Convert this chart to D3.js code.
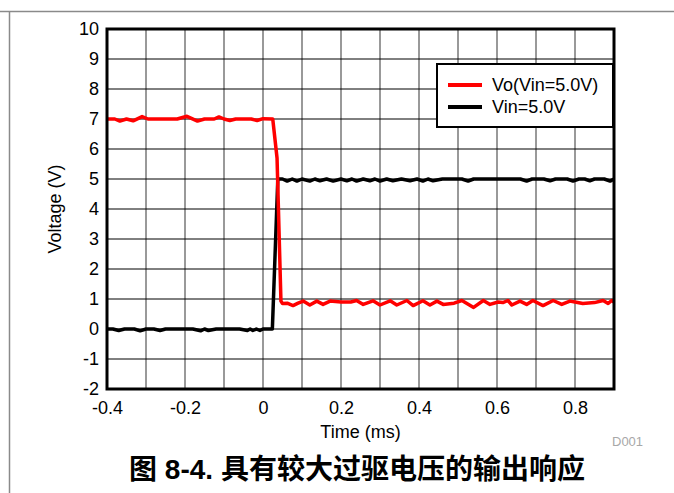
<!DOCTYPE html>
<html>
<head>
<meta charset="utf-8">
<script src="https://cdn.jsdelivr.net/npm/d3@7"></script>
<style>
  body { margin: 0; background: #fff; }
  text { font-family: "Liberation Sans", Arial, sans-serif; }
</style>
</head>
<body>
<div id="chart"></div>
<script>
// x ticks (ms) and y ticks (V)
var xTicks = [-0.4, -0.2, 0, 0.2, 0.4, 0.6, 0.8];
var xGrid = [-0.3, -0.2, -0.1, 0, 0.1, 0.2, 0.3, 0.4, 0.5, 0.6, 0.7, 0.8];
var yTicks = [-2, -1, 0, 1, 2, 3, 4, 5, 6, 7, 8, 9, 10];

// Vo(Vin=5.0V), red trace: [time ms, volts]
var voTime = [-0.4, -0.38, -0.367, -0.35, -0.333, -0.31, -0.295, -0.22, -0.195, -0.168, -0.15, -0.125, -0.113, -0.1, -0.085, -0.07, -0.03, -0.015, 0.0, 0.025,
  0.036, 0.046, 0.05, 0.062, 0.077, 0.09, 0.103, 0.12, 0.138, 0.154, 0.172, 0.2, 0.225, 0.24, 0.257, 0.282, 0.3, 0.326, 0.343, 0.369, 0.385, 0.41, 0.428, 0.446, 0.462,
  0.49, 0.51, 0.54, 0.565, 0.582, 0.603, 0.615, 0.628, 0.638, 0.659, 0.676, 0.692, 0.718, 0.744, 0.766, 0.787, 0.8, 0.82, 0.85, 0.872, 0.885, 0.894, 0.9];
var voVal = [7.0, 7.0, 6.93, 7.0, 6.94, 7.08, 7.0, 7.0, 7.09, 6.93, 7.0, 7.0, 7.07, 7.0, 6.95, 7.0, 7.0, 6.95, 7.01, 7.0,
  5.7, 0.93, 0.85, 0.86, 0.78, 0.86, 0.93, 0.8, 0.93, 0.82, 0.93, 0.9, 0.9, 0.95, 0.82, 0.94, 0.8, 0.94, 0.8, 0.95, 0.78, 0.94, 0.8, 0.93, 0.82,
  0.86, 0.95, 0.72, 0.95, 0.82, 0.9, 0.88, 0.95, 0.8, 0.93, 0.82, 0.95, 0.78, 0.95, 0.82, 0.93, 0.9, 0.85, 0.88, 0.95, 0.85, 0.95, 0.9];

// Vin=5.0V, black trace
var vinTime = [-0.4, -0.385, -0.37, -0.355, -0.33, -0.315, -0.3, -0.28, -0.264, -0.25, -0.18, -0.16, -0.15, -0.14, -0.12, -0.06, -0.04, -0.033, -0.026, -0.017, -0.008, 0.0, 0.024,
  0.038, 0.05, 0.062, 0.075, 0.087, 0.1, 0.12, 0.133, 0.146, 0.163, 0.18, 0.2, 0.215, 0.228, 0.24, 0.257, 0.274, 0.287, 0.3, 0.317, 0.333, 0.355, 0.377, 0.395, 0.41, 0.423, 0.436,
  0.46, 0.51, 0.526, 0.54, 0.66, 0.676, 0.69, 0.72, 0.736, 0.75, 0.78, 0.795, 0.81, 0.825, 0.838, 0.85, 0.875, 0.89, 0.9];
var vinVal = [0.0, 0.0, -0.05, 0.0, 0.0, -0.06, 0.0, 0.0, -0.05, 0.0, 0.0, -0.06, 0.0, -0.05, 0.0, 0.0, -0.05, 0.0, -0.05, 0.0, -0.05, 0.0, 0.0,
  5.0, 5.0, 4.93, 5.0, 4.93, 5.0, 4.93, 5.0, 4.94, 5.0, 4.93, 5.0, 4.94, 5.0, 4.93, 5.0, 4.94, 5.0, 4.93, 5.0, 4.94, 5.0, 4.94, 5.0, 4.93, 5.0, 4.94,
  5.0, 5.0, 4.93, 5.0, 5.0, 4.93, 5.0, 5.0, 4.94, 5.0, 5.0, 4.93, 5.0, 5.0, 4.94, 5.0, 5.0, 4.93, 5.0];

var seriesNames = ['Vo(Vin=5.0V)', 'Vin=5.0V'];
var seriesColors = ['#ff0000', '#000000'];

var W = 674, H = 493;
var margin = { top: 29, right: 60, bottom: 104, left: 107 };
var width = W - margin.left - margin.right,
    height = H - margin.top - margin.bottom;

var svg = d3.select('#chart').append('svg')
  .attr('width', W)
  .attr('height', H);

// page frame lines
svg.append('line')
  .attr('x1', 0).attr('x2', W).attr('y1', 11.5).attr('y2', 11.5)
  .attr('stroke', '#8a8a8a').attr('stroke-width', 1.5);
svg.append('line')
  .attr('x1', 9.5).attr('x2', 9.5).attr('y1', 11.5).attr('y2', H)
  .attr('stroke', '#8a8a8a').attr('stroke-width', 1.5);

var chart = svg.append('g')
  .attr('transform', 'translate(' + margin.left + ', ' + margin.top + ')');

var xScale = d3.scaleLinear().domain([-0.4, 0.9]).range([0, width]);
var yScale = d3.scaleLinear().domain([-2, 10]).range([height, 0]);

// grid
chart.append('g')
  .selectAll('line')
  .data(xGrid)
  .enter().append('line')
  .attr('x1', function (d) { return xScale(d); })
  .attr('x2', function (d) { return xScale(d); })
  .attr('y1', 0).attr('y2', height)
  .attr('stroke', '#555').attr('stroke-width', 1.2);

chart.append('g')
  .selectAll('line')
  .data(yTicks.slice(1, -1))
  .enter().append('line')
  .attr('y1', function (d) { return yScale(d); })
  .attr('y2', function (d) { return yScale(d); })
  .attr('x1', 0).attr('x2', width)
  .attr('stroke', '#000').attr('stroke-width', 1);

// axes (labels only), plain hyphen for negatives like the original
var xAxisCall = d3.axisBottom(xScale).tickValues(xTicks).tickSize(0).tickPadding(12)
  .tickFormat(function (d) { return d === 0 ? '0' : d.toFixed(1); });
var xg = chart.append('g')
  .attr('transform', 'translate(0, ' + height + ')')
  .call(xAxisCall);
xg.select('.domain').remove();
xg.selectAll('text').attr('font-size', '18px').attr('fill', '#000')
  .attr('font-family', '"Liberation Sans", Arial, sans-serif');

var yAxisCall = d3.axisLeft(yScale).tickValues(yTicks).tickSize(0).tickPadding(8)
  .tickFormat(function (d) { return String(d); });
var yg = chart.append('g').call(yAxisCall);
yg.select('.domain').remove();
yg.selectAll('text').attr('font-size', '18px').attr('fill', '#000')
  .attr('font-family', '"Liberation Sans", Arial, sans-serif');

// traces
var line = d3.line()
  .x(function (d) { return xScale(d[0]); })
  .y(function (d) { return yScale(d[1]); });

var vinData = vinTime.map(function (t, i) { return [t, vinVal[i]]; });
var voData = voTime.map(function (t, i) { return [t, voVal[i]]; });

chart.append('path')
  .datum(vinData)
  .attr('d', line)
  .attr('fill', 'none')
  .attr('stroke', seriesColors[1])
  .attr('stroke-width', 3.5)
  .attr('stroke-linejoin', 'round');

chart.append('path')
  .datum(voData)
  .attr('d', line)
  .attr('fill', 'none')
  .attr('stroke', seriesColors[0])
  .attr('stroke-width', 3.5)
  .attr('stroke-linejoin', 'round');

// plot border
chart.append('rect')
  .attr('x', 0).attr('y', 0)
  .attr('width', width).attr('height', height)
  .attr('fill', 'none')
  .attr('stroke', '#000')
  .attr('stroke-width', 3);

// legend
var legend = chart.append('g')
  .attr('transform', 'translate(' + (width - 177) + ', 35)');
legend.append('rect')
  .attr('x', 0).attr('y', 0)
  .attr('width', 176).attr('height', 63)
  .attr('fill', '#fff')
  .attr('stroke', '#000')
  .attr('stroke-width', 2);
seriesNames.forEach(function (name, i) {
  legend.append('line')
    .attr('x1', 11).attr('x2', 45)
    .attr('y1', 21 + i * 22).attr('y2', 21 + i * 22)
    .attr('stroke', seriesColors[i])
    .attr('stroke-width', 4);
  legend.append('text')
    .attr('x', 55).attr('y', 21 + i * 22)
    .attr('dy', '0.35em')
    .attr('font-size', '18px')
    .text(name);
});

// axis titles
chart.append('text')
  .attr('x', -(height / 2))
  .attr('y', -46)
  .attr('transform', 'rotate(-90)')
  .attr('text-anchor', 'middle')
  .attr('font-size', '18px')
  .text('Voltage (V)');

chart.append('text')
  .attr('x', width / 2)
  .attr('y', height + 49)
  .attr('text-anchor', 'middle')
  .attr('font-size', '18px')
  .text('Time (ms)');

svg.append('text')
  .attr('x', 612).attr('y', 446)
  .attr('font-size', '13px')
  .attr('fill', '#a8a8a8')
  .text('D001');

// figure caption
svg.append('text')
  .attr('x', 357).attr('y', 479)
  .attr('text-anchor', 'middle')
  .attr('font-size', '28px')
  .attr('font-weight', 'bold')
  .style('font-family', '"Liberation Sans", "Noto Sans CJK SC", sans-serif')
  .text('图 8-4. 具有较大过驱电压的输出响应');
</script>
</body>
</html>
